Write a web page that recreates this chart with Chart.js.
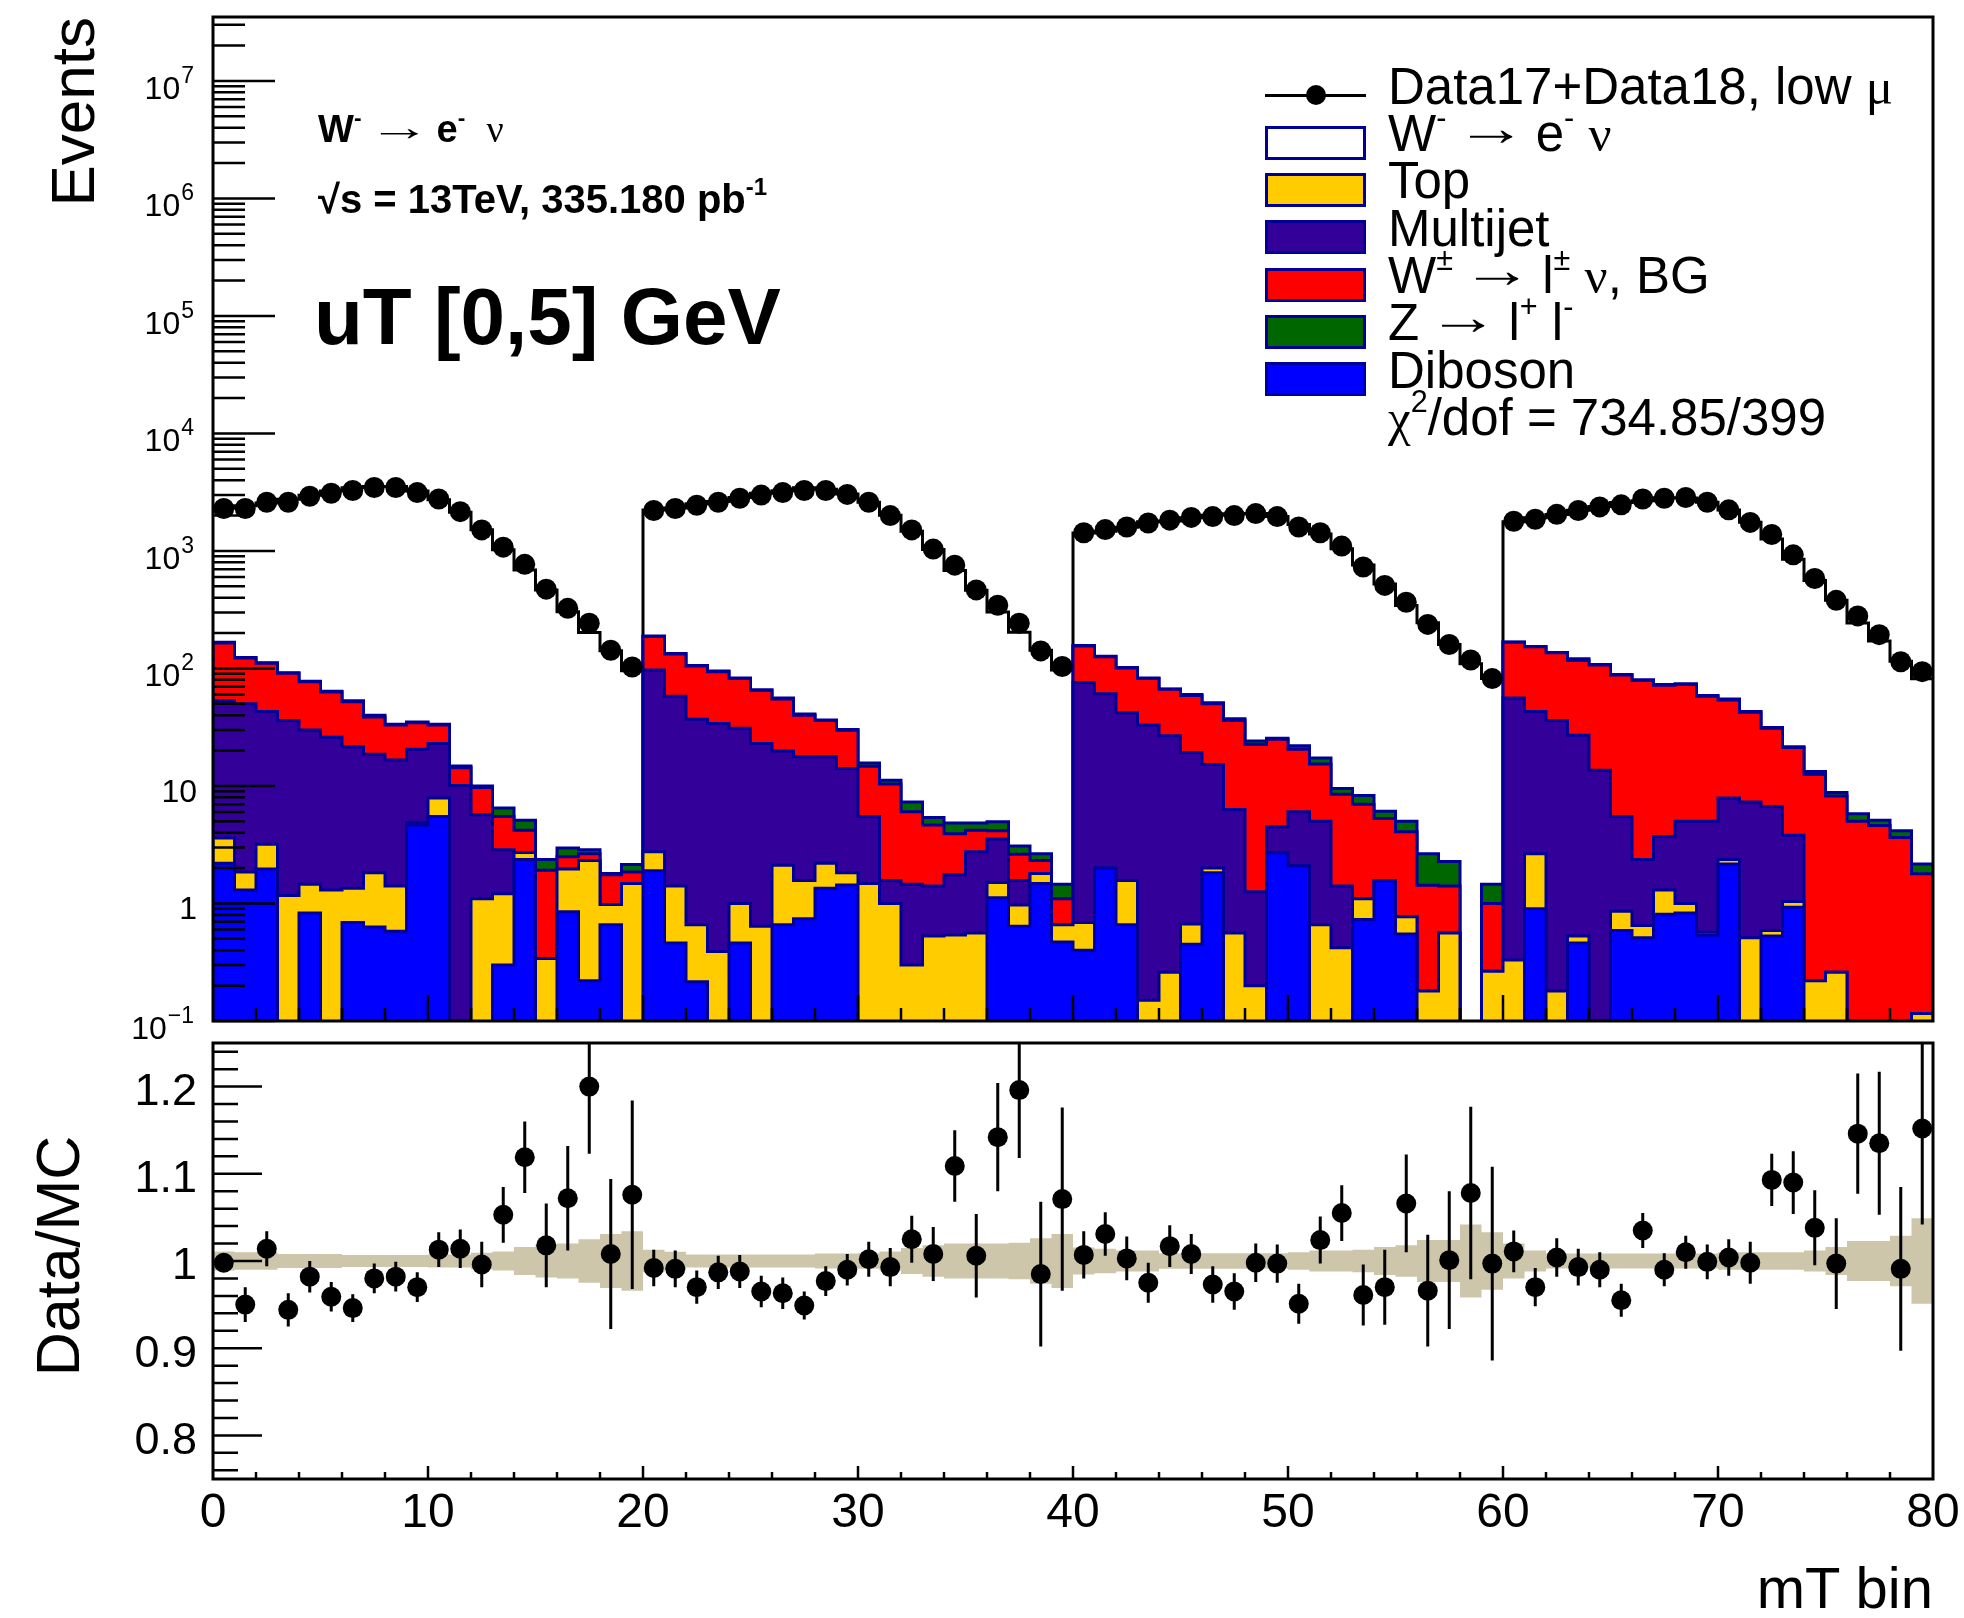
<!DOCTYPE html>
<html>
<head>
<meta charset="utf-8">
<title>W- to e- nu, uT [0,5] GeV</title>
<script src="https://cdn.jsdelivr.net/npm/chart.js@4.4.1/dist/chart.umd.min.js"></script>
<style>
html,body{margin:0;padding:0;background:#fff}
#page{position:relative;width:1964px;height:1618px;overflow:hidden;font-family:"Liberation Sans",Arial,sans-serif;color:#000}
#page canvas{position:absolute;left:0}
.t{position:absolute;white-space:nowrap;line-height:1}
.sup{font-size:0.6em;position:relative;top:-0.75em}
.gr{font-family:"Liberation Serif",serif;font-weight:normal}
.ar{display:inline-block;font-weight:normal;transform:scaleX(1.4);margin:0 5px;position:relative;top:-0.12em}
.ar2{display:inline-block;font-weight:normal;transform:scaleX(1.65);margin:0 8px;position:relative;top:-0.06em}
.box{position:absolute;left:1265px;width:101px;height:34px;box-sizing:border-box;border:3px solid #000099}
.rot{transform-origin:0 0;transform:rotate(-90deg)}
</style>
</head>
<body>
<div id="page">
<canvas id="main" width="1964" height="1045" style="top:0"></canvas>
<canvas id="ratio" width="1964" height="588" style="top:1030px"></canvas>

<!-- axis titles -->
<div class="t rot" style="left:41.5px;top:317px;width:300px;text-align:right;font-size:62px">Events</div>
<div class="t rot" style="left:28.4px;top:1378px;width:244px;text-align:center;font-size:61px">Data/MC</div>
<div class="t" style="right:31px;top:1558.9px;font-size:58px">mT bin</div>

<!-- labels top left -->
<div class="t" style="left:318px;top:109.8px;font-size:38px;font-weight:bold">W<span class="sup">-</span> <span class="ar2">&rarr;</span> e<span class="sup">-</span>&nbsp; <span class="gr">&nu;</span></div>
<div class="t" style="left:318px;top:179.1px;font-size:40px;font-weight:bold">&radic;s = 13TeV, 335.180 pb<span class="sup">-1</span></div>
<div class="t" style="left:314px;top:277.3px;font-size:80px;font-weight:bold">uT [0,5] GeV</div>

<!-- legend -->
<div style="position:absolute;left:1265px;top:93.5px;width:101px;height:3px;background:#000"></div>
<div style="position:absolute;left:1306px;top:85px;width:20px;height:20px;border-radius:50%;background:#000"></div>
<div class="box" style="top:126px;background:#fff"></div>
<div class="box" style="top:173.2px;background:#ffcc00"></div>
<div class="box" style="top:220.4px;background:#330099"></div>
<div class="box" style="top:267.6px;background:#ff0000"></div>
<div class="box" style="top:314.8px;background:#006600"></div>
<div class="box" style="top:362px;background:#0000ff"></div>
<div class="t" style="left:1388px;top:60.8px;font-size:51px">Data17+Data18, low <span class="gr">&mu;</span></div>
<div class="t" style="left:1388px;top:108.1px;font-size:51px">W<span class="sup">-</span> <span class="ar">&rarr;</span> e<span class="sup">-</span> <span class="gr">&nu;</span></div>
<div class="t" style="left:1388px;top:155.4px;font-size:51px">Top</div>
<div class="t" style="left:1388px;top:202.7px;font-size:51px">Multijet</div>
<div class="t" style="left:1388px;top:250px;font-size:51px">W<span class="sup">&plusmn;</span> <span class="ar">&rarr;</span> l<span class="sup">&plusmn;</span> <span class="gr">&nu;</span>, BG</div>
<div class="t" style="left:1388px;top:297.3px;font-size:51px">Z <span class="ar">&rarr;</span> l<span class="sup">+</span> l<span class="sup">-</span></div>
<div class="t" style="left:1388px;top:344.6px;font-size:51px">Diboson</div>
<div class="t" style="left:1388px;top:391.9px;font-size:51px"><span class="gr">&chi;</span><span class="sup">2</span>/dof = 734.85/399</div>
</div>

<script>
// 80 mT bins (4 blocks of 20)
const nBins = 80;

const dataEvents = [
2300,2300,2600,2600,2920,3100,3270,3470,3470,3140,2770,2160,1510,1077,769,473,325,243,143,103,
2210,2300,2450,2600,2810,2990,3140,3270,3270,3030,2600,2000,1510,1038,757,466,345,243,141,104,
1430,1520,1600,1730,1830,1930,1960,2000,2080,1960,1600,1430,1100,730,509,366,237,160,118,82,
1790,1860,2050,2210,2370,2470,2770,2810,2850,2600,2240,1750,1380,927,583,380,280,194,114,94];

// Data/MC and its error
const ratio = [
0.998,0.950,1.014,0.944,0.982,0.959,0.946,0.980,0.982,0.970,
1.013,1.014,0.996,1.053,1.119,1.018,1.072,1.200,1.008,1.076,
0.992,0.991,0.970,0.987,0.988,0.965,0.963,0.949,0.977,0.990,
1.002,0.993,1.025,1.008,1.109,1.006,1.142,1.196,0.985,1.071,
1.007,1.031,1.003,0.975,1.017,1.008,0.973,0.965,0.998,0.997,
0.951,1.024,1.055,0.961,0.970,1.066,0.966,1.001,1.078,0.997,
1.011,0.970,1.004,0.993,0.990,0.955,1.035,0.990,1.010,0.999,
1.004,0.998,1.093,1.090,1.038,0.997,1.146,1.135,0.991,1.152];

const ratioErr = [
0.010,0.020,0.020,0.019,0.018,0.017,0.016,0.017,0.017,0.017,
0.020,0.022,0.026,0.032,0.041,0.048,0.060,0.077,0.086,0.108,
0.021,0.021,0.019,0.019,0.019,0.018,0.018,0.016,0.017,0.018,
0.020,0.022,0.027,0.031,0.041,0.048,0.062,0.078,0.083,0.105,
0.027,0.025,0.025,0.023,0.024,0.023,0.021,0.021,0.022,0.022,
0.023,0.027,0.032,0.035,0.043,0.056,0.064,0.079,0.099,0.111,
0.024,0.022,0.022,0.021,0.020,0.019,0.020,0.019,0.019,0.020,
0.021,0.024,0.030,0.036,0.043,0.052,0.069,0.082,0.094,0.110];

// relative MC uncertainty (half width of the band)
const mcUnc = [
0.011,0.010,0.010,0.008,0.008,0.008,0.007,0.007,0.007,0.007,0.0075,0.0075,0.0095,0.011,0.016,0.019,0.020,0.025,0.031,0.034,
0.013,0.0105,0.0075,0.0075,0.0075,0.0075,0.0075,0.0075,0.0085,0.0085,0.009,0.011,0.015,0.018,0.020,0.020,0.020,0.021,0.026,0.031,
0.0156,0.014,0.012,0.012,0.009,0.009,0.009,0.009,0.009,0.009,0.010,0.012,0.012,0.013,0.016,0.018,0.024,0.024,0.042,0.033,
0.020,0.012,0.0085,0.0085,0.0085,0.0085,0.0085,0.0085,0.0085,0.0085,0.010,0.010,0.010,0.010,0.012,0.016,0.023,0.023,0.029,0.049];

// upper edge of each layer of the stack (cumulative)
const stackDiboson = [
2.2,1.3,1.97,0,0.83,0,0.69,0.63,0.58,4.66,
5.5,0,0,0.3,2.37,0,0.85,0.22,0.66,0,
1.9,0.46,0.216,0,0.46,0,0.66,0.74,1.35,1.44,
0,0,0,0,0,0,1.12,0.64,1.48,0.47,
0.4,2.0,0.66,0,0,0.45,1.83,0,0,2.7,
2.09,0,0,0.73,1.57,0.55,0,0,0,0,
0,0.9,0,0.46,0,0.59,0.51,0.81,0.83,0.54,
2.17,0,0.53,0.93,0,0,0,0,0,0];

const stackTop = [
3.6,1.85,3.2,1.17,1.46,1.3,1.35,1.83,1.41,4.9,
7.9,0,1.1,1.21,2.72,0.34,1.97,2.32,0.98,1.48,
2.76,1.41,0.66,0.39,1.0,0.64,2.12,1.57,2.2,1.83,
1.48,1.0,0.3,0.53,0.54,0.56,1.51,0.97,1.8,0.66,
0.69,2.0,1.57,0.15,0.26,0.67,2.0,0.56,0.2,2.7,
2.09,0.66,0.42,1.1,1.57,0.77,0.18,0.56,0,0.265,
0.33,2.65,0.18,0.53,0,0.86,0.65,1.3,1.0,0.57,
2.37,0.51,0.59,1.04,0.22,0.26,0,0,0,0.116];

const stackMultijet = [
53,50,43,36,30,26,21.6,18.6,16.6,20.5,
23,10.1,5.7,2.86,2.72,0.34,1.97,2.32,0.98,1.48,
97,58,37,34,31,23,19.8,17.7,17.7,14.1,
5.5,1.57,1.46,1.41,1.76,2.76,3.53,1.57,1.8,0.66,
76,61,42,33,26.7,19.3,15.2,6.3,1.26,4.5,
6.05,5.0,1.41,1.1,1.57,0.77,0.18,0.56,0,0.265,
56,43,36,27,13.6,5.5,2.37,3.72,5.0,5.0,
7.9,7.3,6.7,3.8,0.22,0.26,0,0,0,0.116];

const stackWbg = [
165,123,111,91,77,63,52,38.7,33,34.6,
33,14.3,9.7,5.5,4.2,1.92,2.5,2.65,1.76,1.85,
187,133,105,94,82,65,55,40,36,29.8,
14.7,10.4,6.05,4.66,3.92,4.2,4.16,2.62,2.32,1.1,
155,126,101,82,66.5,59,50,36,22.5,25,
20.5,15.4,8.5,7.0,5.3,4.07,1.43,1.41,0,1.0,
167,153,136,117,107,88,79,72,73,58,
54,42.4,31,21.3,12.5,8.2,5.0,4.6,3.64,1.79];

const stackZ = [
167,124,112,92,78,64,53,40,33.5,35,
33.5,14.8,10,6.5,5.1,2.37,2.97,2.86,1.8,2.15,
189,134,106,95,83,66,56,41,36.5,30.2,
15.7,11.2,7.3,5.4,4.83,4.83,4.95,3.08,2.65,1.46,
157,127,102,83,67,60,51,37.3,24.2,25.5,
22,17.3,9.5,8.3,6.1,5.0,2.65,2.28,0,1.46,
168,154,137,121,108,89,80,73,74,59,
55,43,31.5,21.6,13.3,8.8,5.8,5.1,4.16,2.17];

const logTickValues = [0.1, 1, 10, 1e2, 1e3, 1e4, 1e5, 1e6, 1e7];
const ratioTickValues = [0.8, 0.9, 1, 1.1, 1.2];
const xTickValues = [0, 10, 20, 30, 40, 50, 60, 70, 80];

const Y_MIN = 0.1, Y_MAX = 3.5e7;
const FLOOR = 0.01; // empty bins sit below the axis
const NAVY = '#000099';
const BAND = '#cdc6aa';
const FONT = 'Liberation Sans';

Chart.defaults.font.family = FONT;
Chart.defaults.color = '#000';

// total MC = data / (data/MC)
const mcTotal = dataEvents.map((d, i) => d / ratio[i]);

function stepPoints(vals, close) {
  const pts = close ? [{x: 0, y: FLOOR}] : [];
  vals.forEach((v, i) => {
    const y = v > 0 ? v : (close ? FLOOR : v);
    pts.push({x: i, y: y}, {x: i + 1, y: y});
  });
  if (close) pts.push({x: nBins, y: FLOOR});
  return pts;
}

function layer(label, vals, color, order) {
  return {label, data: stepPoints(vals, true), backgroundColor: color, borderColor: NAVY,
    borderWidth: 3, fill: 'start', pointRadius: 0, order};
}

// ROOT style frame, inward ticks, log labels
function rootAxes(cfg) {
  return {
    id: 'rootAxes',
    afterDatasetsDraw(chart) {
      const {ctx, chartArea: a} = chart;
      const xs = chart.scales.x, ys = chart.scales.y;
      ctx.save();
      ctx.strokeStyle = '#000';
      ctx.lineWidth = 2.5;
      ctx.beginPath();
      cfg.yTicks.forEach(t => {
        const p = ys.getPixelForValue(t.v);
        if (p < a.top || p > a.bottom) return;
        ctx.moveTo(a.left, p);
        ctx.lineTo(a.left + (t.major ? cfg.yLen[0] : cfg.yLen[1]), p);
      });
      cfg.xTicks.forEach(t => {
        const p = xs.getPixelForValue(t.v);
        ctx.moveTo(p, a.bottom);
        ctx.lineTo(p, a.bottom - (t.major ? cfg.xLen[0] : cfg.xLen[1]));
      });
      ctx.stroke();
      ctx.lineWidth = 3;
      ctx.strokeRect(a.left, a.top, a.right - a.left, a.bottom - a.top);

      if (cfg.logLabels) {
        ctx.fillStyle = '#000';
        ctx.textAlign = 'right';
        logTickValues.forEach(v => {
          const p = ys.getPixelForValue(v);
          const e = Math.round(Math.log10(v));
          if (e === 0 || e === 1) {
            ctx.font = '32px "' + FONT + '"';
            ctx.fillText(e === 0 ? '1' : '10', 197, p + 16);
          } else {
            const ex = e < 0 ? '\u2212' + (-e) : String(e);
            ctx.font = '23px "' + FONT + '"';
            const w = ctx.measureText(ex).width;
            ctx.fillText(ex, 194, p + 2);
            ctx.font = '32px "' + FONT + '"';
            ctx.fillText('10', 194 - w - 1, p + 18);
          }
        });
      }
      ctx.restore();
    }
  };
}

const logTicks = [];
for (let e = -1; e <= 7; e++) {
  for (let k = 1; k <= 9; k++) {
    const v = k * Math.pow(10, e);
    if (v <= Y_MAX) logTicks.push({v, major: k === 1});
  }
}
const xTicks = [];
for (let k = 1; k < 40; k++) xTicks.push({v: 2 * k, major: (2 * k) % 10 === 0});
const ratioTicks = [];
for (let k = 38; k <= 62; k++) ratioTicks.push({v: k / 50, major: k % 5 === 0});

const common = {
  responsive: false, animation: false, devicePixelRatio: 1, events: [],
  plugins: {legend: {display: false}, tooltip: {enabled: false}}
};

// main panel
new Chart(document.getElementById('main'), {
  type: 'line',
  data: {
    datasets: [
      {label: 'Data17+Data18', data: dataEvents.map((v, i) => ({x: i + 0.5, y: v})), showLine: false,
        pointRadius: 10.5, pointBackgroundColor: '#000', pointBorderWidth: 0, order: 0},
      layer('Diboson', stackDiboson, '#0000ff', 1),
      layer('Top', stackTop, '#ffcc00', 2),
      layer('Multijet', stackMultijet, '#330099', 3),
      layer('W BG', stackWbg, '#ff0000', 4),
      layer('Z', stackZ, '#006600', 5),
      {label: 'MC total', data: stepPoints(mcTotal, false), borderColor: '#000', borderWidth: 3,
        pointRadius: 0, fill: false, order: 6}
    ]
  },
  options: Object.assign({}, common, {
    layout: {padding: {left: 213, right: 31, top: 17, bottom: 24}},
    scales: {
      x: {type: 'linear', display: false, min: 0, max: nBins},
      y: {type: 'logarithmic', display: false, min: Y_MIN, max: Y_MAX}
    }
  }),
  plugins: [rootAxes({yTicks: logTicks, xTicks, yLen: [62, 32], xLen: [26, 13], logLabels: true})]
});

// ratio panel
const errPts = [];
ratio.forEach((r, i) => {
  errPts.push({x: i + 0.5, y: r - ratioErr[i]}, {x: i + 0.5, y: r + ratioErr[i]}, {x: i + 0.5, y: null});
});

new Chart(document.getElementById('ratio'), {
  type: 'line',
  data: {
    datasets: [
      {label: 'Data/MC', data: ratio.map((v, i) => ({x: i + 0.5, y: v})), showLine: false,
        pointRadius: 10, pointBackgroundColor: '#000', pointBorderWidth: 0, order: 0},
      {label: 'error', data: errPts, borderColor: '#000', borderWidth: 3, pointRadius: 0,
        fill: false, spanGaps: false, order: 1},
      {label: 'MC unc up', data: stepPoints(mcUnc.map(e => 1 + e), false), borderWidth: 0,
        borderColor: 'rgba(0,0,0,0)', backgroundColor: BAND, pointRadius: 0, fill: 3, order: 2},
      {label: 'MC unc down', data: stepPoints(mcUnc.map(e => 1 - e), false), borderWidth: 0,
        borderColor: 'rgba(0,0,0,0)', pointRadius: 0, fill: false, order: 3}
    ]
  },
  options: Object.assign({}, common, {
    layout: {padding: {left: 0, right: 31, top: 13, bottom: 0}},
    scales: {
      x: {type: 'linear', min: 0, max: nBins,
        grid: {display: false, drawTicks: false}, border: {display: false},
        ticks: {padding: 6, font: {size: 48}, autoSkip: false, maxRotation: 0},
        afterBuildTicks: s => { s.ticks = xTickValues.map(v => ({value: v})); },
        afterFit: s => { s.height = 139; s.paddingLeft = 0; s.paddingRight = 0; }},
      y: {type: 'linear', min: 0.75, max: 1.25,
        grid: {display: false, drawTicks: false}, border: {display: false},
        ticks: {padding: 16, labelOffset: 6, font: {size: 45}, autoSkip: false,
          callback: v => (v === 1 ? '1' : v.toFixed(1))},
        afterBuildTicks: s => { s.ticks = ratioTickValues.map(v => ({value: v})); },
        afterFit: s => { s.width = 213; s.paddingTop = 0; s.paddingBottom = 0; }}
    }
  }),
  plugins: [rootAxes({yTicks: ratioTicks, xTicks, yLen: [49, 25], xLen: [13, 7], logLabels: false})]
});
</script>
</body>
</html>
